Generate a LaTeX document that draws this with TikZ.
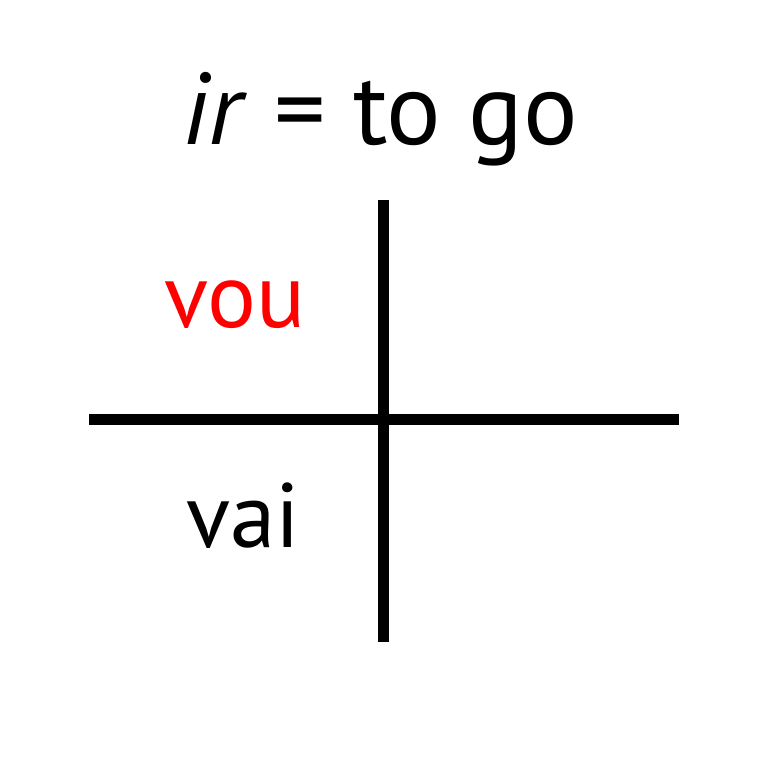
\documentclass[tikz,border=0pt]{standalone}
\usepackage{xcolor}
\usepackage{fontspec}
\setmainfont{PT Sans}
\begin{document}
\begin{tikzpicture}
    \useasboundingbox (0,0) rectangle (15.36,15.36);

    \draw[line width=0.22cm] (7.66,11.36) -- (7.66,2.52);
    \draw[line width=0.22cm] (1.78,6.96) -- (13.58,6.96);

    \node[anchor=base, font=\fontsize{58}{60}\selectfont] (title) at (7.6,12.46) {\textit{ir} = to go};
    \node[anchor=base, text=red, font=\fontsize{52}{54}\selectfont] (vou) at (4.7,8.80) {vou};
    \node[anchor=base, font=\fontsize{52}{54}\selectfont] (vai) at (4.86,4.40) {vai};
\end{tikzpicture}
\end{document}
